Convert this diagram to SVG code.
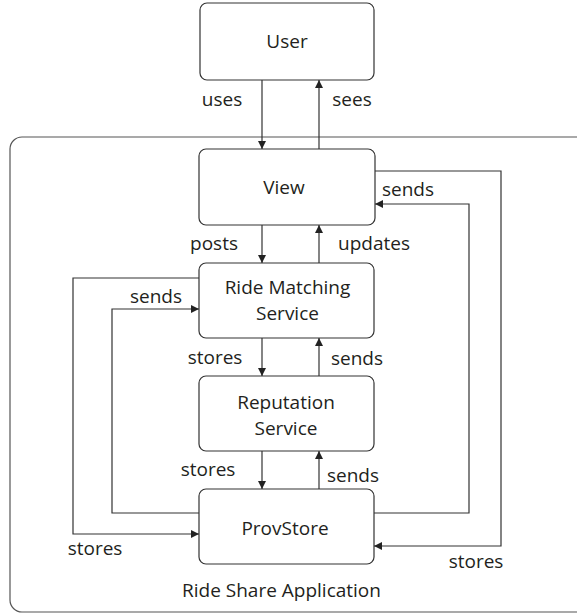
<svg xmlns="http://www.w3.org/2000/svg" width="577" height="613" viewBox="0 0 577 613">
<defs>
<marker id="ah" viewBox="0 0 10 10" refX="10" refY="5" markerWidth="8" markerHeight="8" markerUnits="userSpaceOnUse" orient="auto">
<path d="M0,0 L10,5 L0,10 z" fill="#222"/>
</marker>
<style>
.box{fill:#fff;stroke:#333;stroke-width:1.2}
.c{fill:none;stroke:#333;stroke-width:1.2}
text{font-family:"Open Sans","Liberation Sans",sans-serif;font-size:19px;fill:#231f20;text-anchor:middle;dominant-baseline:central}
</style>
</defs>
<rect width="577" height="613" fill="#fff"/>
<g id="container">
<rect x="10" y="137" width="620" height="475" rx="12" fill="none" stroke="#555" stroke-width="1.2"/>
<text x="281.5" y="590">Ride Share Application</text>
</g>
<g id="connectors">
<path class="c" d="M262,80 V149" marker-end="url(#ah)"/>
<path class="c" d="M319,149 V80" marker-end="url(#ah)"/>
<path class="c" d="M262,225 V263" marker-end="url(#ah)"/>
<path class="c" d="M319,263 V225" marker-end="url(#ah)"/>
<path class="c" d="M262,338 V376" marker-end="url(#ah)"/>
<path class="c" d="M319,376 V338" marker-end="url(#ah)"/>
<path class="c" d="M262,451 V489" marker-end="url(#ah)"/>
<path class="c" d="M319,489 V451" marker-end="url(#ah)"/>
<path class="c" d="M199,278 H73 V534 H199" marker-end="url(#ah)"/>
<path class="c" d="M199,513 H112 V309 H199" marker-end="url(#ah)"/>
<path class="c" d="M374,513 H469 V204 H375" marker-end="url(#ah)"/>
<path class="c" d="M375,171 H501 V546 H374" marker-end="url(#ah)"/>
<text x="222" y="99">uses</text>
<text x="352" y="99">sees</text>
<text x="214" y="243">posts</text>
<text x="374" y="243">updates</text>
<text x="408" y="189">sends</text>
<text x="156" y="296">sends</text>
<text x="215" y="357">stores</text>
<text x="357" y="358">sends</text>
<text x="208" y="469">stores</text>
<text x="353" y="475">sends</text>
<text x="95" y="548">stores</text>
<text x="476" y="561">stores</text>
</g>
<g id="user">
<rect class="box" x="200" y="3" width="174" height="77" rx="7"/>
<text x="287" y="41">User</text>
</g>
<g id="view">
<rect class="box" x="199" y="149" width="176" height="76" rx="7"/>
<text x="284" y="187">View</text>
</g>
<g id="ride-matching">
<rect class="box" x="199" y="263" width="175" height="75" rx="7"/>
<text x="287.5" y="287">Ride Matching</text>
<text x="287.5" y="313">Service</text>
</g>
<g id="reputation">
<rect class="box" x="199" y="376" width="175" height="75" rx="7"/>
<text x="286" y="402">Reputation</text>
<text x="286" y="428">Service</text>
</g>
<g id="provstore">
<rect class="box" x="199" y="489" width="175" height="75" rx="7"/>
<text x="285" y="528">ProvStore</text>
</g>
</svg>
